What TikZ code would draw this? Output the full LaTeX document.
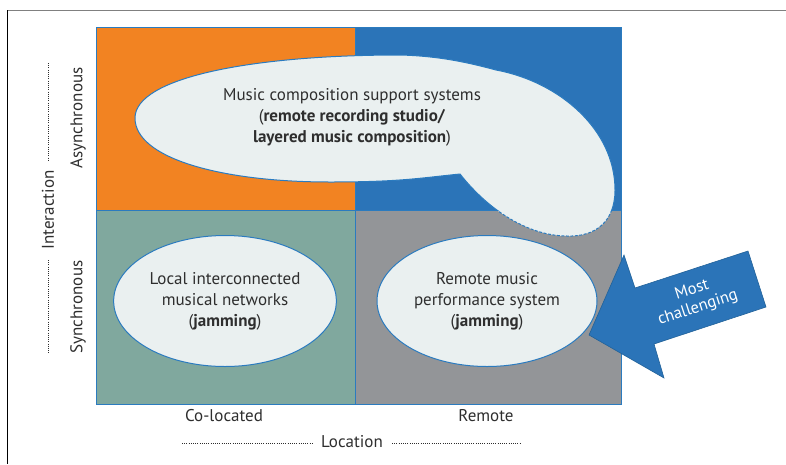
\documentclass[tikz,border=0pt]{standalone}
\usepackage{fontspec}
\setmainfont{PT Sans}
\usetikzlibrary{shapes.geometric}
\definecolor{quadorange}{HTML}{F28322}
\definecolor{quadblue}{HTML}{2B74B8}
\definecolor{quadteal}{HTML}{80A89E}
\definecolor{quadgray}{HTML}{939598}
\definecolor{edgeblue}{HTML}{2B7BBF}
\definecolor{bubblefill}{HTML}{EAF0F0}
\definecolor{inkgray}{HTML}{2E2E2E}
\tikzset{
  quad/.style={draw=edgeblue, line width=0.8pt},
  bubble/.style={ellipse, draw=edgeblue, line width=1pt, fill=bubblefill, align=center, text=inkgray},
  axislabel/.style={text=inkgray},
  dotline/.style={draw=inkgray, line width=0.6pt, dash pattern=on 1pt off 1.2pt}
}
\begin{document}
\begin{tikzpicture}[x=1pt, y=-1pt, font=\fontsize{17}{21}\selectfont]
\useasboundingbox (0,0) rectangle (786,464);
% frame
\draw[gray, line width=0.9pt] (786,10) -- (7,10);
\draw[black, line width=0.8pt] (7,10) -- (7,464);
% quadrants
\filldraw[quad, fill=quadorange] (96,27) rectangle (355,210);
\filldraw[quad, fill=quadblue] (355,27) rectangle (621,210);
\filldraw[quad, fill=quadteal] (96,210) rectangle (355,404);
\filldraw[quad, fill=quadgray] (355,210) rectangle (621,404);
% composition blob
\def\blobpath{(135,118) .. controls (135,78) and (250,55) .. (400,55)
  .. controls (440,56) and (470,63) .. (496,70)
  .. controls (560,82) and (615,130) .. (615,190)
  .. controls (615,222) and (595,237) .. (567,236)
  .. controls (530,236) and (490,212) .. (460,174)
  .. controls (420,178) and (400,182) .. (330,182)
  .. controls (220,182) and (135,158) .. (135,118) -- cycle}
\fill[bubblefill] \blobpath;
\begin{scope}
  \clip (0,0) rectangle (786,210);
  \draw[draw=edgeblue, line width=1pt] \blobpath;
\end{scope}
\begin{scope}
  \clip (0,210) rectangle (786,464);
  \draw[draw=edgeblue, line width=1pt, dash pattern=on 3pt off 1.5pt] \blobpath;
\end{scope}
\node[align=center, text=inkgray] (compose) at (352,117)
  {Music composition support systems\\(\textbf{remote recording studio/}\\\textbf{layered music composition})};
% synchronous cells
\node[bubble, minimum width=219pt, minimum height=131pt] (local) at (225,301)
  {Local interconnected\\musical networks\\(\textbf{jamming})};
\node[bubble, minimum width=220pt, minimum height=131pt] (remote) at (487,301)
  {Remote music\\performance system\\(\textbf{jamming})};
% arrow
\filldraw[fill=quadblue, draw=edgeblue!80!black, line width=0.6pt] (589,335) -- (624,255) -- (635,288) -- (748,251)
  -- (766,307) -- (654,344) -- (664,378) -- cycle;
\node[rotate=18, text=white, align=center, font=\fontsize{16.5}{19}\selectfont] (hard) at (695,299) {Most\\challenging};
% axes
\node[axislabel, rotate=90] (async) at (78,118) {Asynchronous};
\node[axislabel, rotate=90] (sync) at (78,307) {Synchronous};
\node[axislabel, rotate=90] (interact) at (48,210) {Interaction};
\node[axislabel] (colo) at (224,416) {Co-located};
\node[axislabel] (remo) at (486,416) {Remote};
\node[axislabel] (loc) at (352,442) {Location};
\draw[dotline] (48,63) -- (48,160);
\draw[dotline] (48,260) -- (48,354);
\draw[dotline] (182,443) -- (312,443);
\draw[dotline] (392,443) -- (521,443);
\end{tikzpicture}
\end{document}
